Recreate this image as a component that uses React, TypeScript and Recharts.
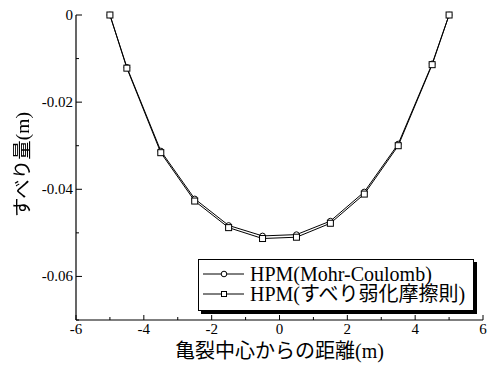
import React from 'react';
import { LineChart, Line, XAxis, YAxis, Legend, Label } from 'recharts';

const distances = [-5, -4.5, -3.5, -2.5, -1.5, -0.5, 0.5, 1.5, 2.5, 3.5, 4.5, 5];
const mohrCoulomb = [0, -0.012, -0.0312, -0.0422, -0.0483, -0.0507, -0.0504, -0.0473, -0.0406, -0.0296, -0.0112, 0];
const slipWeakening = [0, -0.0122, -0.0316, -0.0427, -0.0488, -0.0513, -0.051, -0.0478, -0.0411, -0.03, -0.0114, 0];
const xTicks = [-6, -5, -4, -3, -2, -1, 0, 1, 2, 3, 4, 5, 6];
const yTicks = [0, -0.01, -0.02, -0.03, -0.04, -0.05, -0.06, -0.07];
const seriesNames = ['HPM(Mohr-Coulomb)', 'HPM(すべり弱化摩擦則)'];
const xLabel = '亀裂中心からの距離(m)';
const yLabel = 'すべり量(m)';

const data = distances.map((x, i) => ({ x, mc: mohrCoulomb[i], sw: slipWeakening[i] }));

const FONT = 'Liberation Serif, Times New Roman, Tinos, DejaVu Serif, Noto Sans CJK JP';

const isMajorX = (v: number) => Math.abs(v) % 2 === 0;
const isMajorY = (v: number) => Math.round(Math.abs(v) * 100) % 2 === 0;
const fmtY = (v: number) => (v === 0 ? '0' : v.toFixed(2));

const BottomTick = (p: any) => {
  const { x, y, payload } = p;
  const major = isMajorX(payload.value);
  return (
    <g>
      <line x1={x} y1={y} x2={x} y2={y - (major ? 5 : 3)} stroke="#000" strokeWidth={1} />
      {major && (
        <text x={x} y={y + 14} textAnchor="middle" fontFamily={FONT} fontSize={15} fill="#000">
          {payload.value}
        </text>
      )}
    </g>
  );
};

const TopTick = (p: any) => {
  const { x, y, payload } = p;
  const major = isMajorX(payload.value);
  return <line x1={x} y1={y} x2={x} y2={y + (major ? 5 : 3)} stroke="#000" strokeWidth={1} />;
};

const LeftTick = (p: any) => {
  const { x, y, payload } = p;
  const major = isMajorY(payload.value);
  return (
    <g>
      <line x1={x} y1={y} x2={x + (major ? 6 : 3)} y2={y} stroke="#000" strokeWidth={1} />
      {major && (
        <text x={x - 3} y={y + 5} textAnchor="end" fontFamily={FONT} fontSize={15} fill="#000">
          {fmtY(payload.value)}
        </text>
      )}
    </g>
  );
};

const RightTick = (p: any) => {
  const { x, y, payload } = p;
  const major = isMajorY(payload.value);
  return <line x1={x} y1={y} x2={x - (major ? 6 : 3)} y2={y} stroke="#000" strokeWidth={1} />;
};

const SquareDot = (p: any) => {
  const { cx, cy } = p;
  if (cx == null || cy == null) return null;
  return <rect x={cx - 3} y={cy - 3} width={6} height={6} fill="#fff" stroke="#000" strokeWidth={1} />;
};

const LegendContent = (p: any) => {
  const payload = p.payload || [];
  return (
    <div
      style={{
        width: 276,
        height: 52,
        boxSizing: 'border-box',
        border: '1.5px solid #000',
        boxShadow: '3px 3px 0 #000',
        background: '#fff',
        paddingTop: 4,
        fontFamily: FONT,
        fontSize: 20,
        color: '#000',
      }}
    >
      {payload.map((e: any, i: number) => (
        <div key={i} style={{ display: 'flex', alignItems: 'center', height: 20, lineHeight: '20px', whiteSpace: 'nowrap' }}>
          <svg width={51} height={20} style={{ display: 'block', flex: 'none' }}>
            <line x1={4} y1={10} x2={45} y2={10} stroke="#000" strokeWidth={1} />
            {i === 0 ? (
              <circle cx={25} cy={10} r={2.8} fill="#fff" stroke="#000" strokeWidth={1} />
            ) : (
              <rect x={22.5} y={7.5} width={5} height={5} fill="#fff" stroke="#000" strokeWidth={1} />
            )}
          </svg>
          <span>{e.value}</span>
        </div>
      ))}
    </div>
  );
};

const YLabelContent = (p: any) => {
  const vb = p.viewBox || {};
  const cx = vb.x + 22;
  const cy = vb.y + vb.height / 2 - 3;
  return (
    <g>
      <defs>
        <filter id="ylabel-gray" x="-10%" y="-10%" width="120%" height="120%">
          <feColorMatrix type="saturate" values="0" />
        </filter>
      </defs>
      <g filter="url(#ylabel-gray)">
        <text
          x={cx}
          y={cy}
          transform={`rotate(-90, ${cx}, ${cy})`}
          textAnchor="middle"
          dominantBaseline="central"
          fontFamily={FONT}
          fontSize={19.5}
          fill="#000"
        >
          {yLabel}
        </text>
      </g>
    </g>
  );
};

export default function App() {
  return (
    <div style={{ position: 'absolute', left: 0, top: 0, width: 490, height: 367, background: '#fff' }}>
      <LineChart width={490} height={367} data={data} margin={{ top: 15, right: 7, bottom: 0, left: 0 }}>
        <XAxis
          dataKey="x"
          type="number"
          domain={[-6, 6]}
          ticks={xTicks}
          interval={0}
          height={47}
          tickSize={0}
          tickMargin={0}
          tick={<BottomTick />}
          axisLine={{ stroke: '#000', strokeWidth: 1.2 }}
        >
          <Label value={xLabel} position="insideBottom" offset={9} fontFamily={FONT} fontSize={20} fill="#000" />
        </XAxis>
        <XAxis
          xAxisId="top"
          orientation="top"
          dataKey="x"
          type="number"
          domain={[-6, 6]}
          ticks={xTicks}
          interval={0}
          height={0}
          tickSize={0}
          tickMargin={0}
          tick={<TopTick />}
          axisLine={{ stroke: '#000', strokeWidth: 1.2 }}
        />
        <YAxis
          type="number"
          domain={[-0.07, 0]}
          ticks={yTicks}
          interval={0}
          width={76}
          tickSize={0}
          tickMargin={0}
          tick={<LeftTick />}
          axisLine={{ stroke: '#000', strokeWidth: 1.2 }}
        >
          <Label content={<YLabelContent />} />
        </YAxis>
        <YAxis
          yAxisId="right"
          orientation="right"
          type="number"
          domain={[-0.07, 0]}
          ticks={yTicks}
          interval={0}
          width={0}
          tickSize={0}
          tickMargin={0}
          tick={<RightTick />}
          axisLine={{ stroke: '#000', strokeWidth: 1.2 }}
        />
        <Legend
          layout="vertical"
          verticalAlign="middle"
          align="center"
          content={<LegendContent />}
          wrapperStyle={{ left: 198, top: 259, width: 276, height: 52 }}
        />
        <Line
          dataKey="mc"
          name={seriesNames[0]}
          type="linear"
          stroke="#000"
          strokeWidth={1}
          dot={{ r: 2.8, fill: '#fff', stroke: '#000', strokeWidth: 1 }}
          isAnimationActive={false}
        />
        <Line
          dataKey="sw"
          name={seriesNames[1]}
          type="linear"
          stroke="#000"
          strokeWidth={1}
          dot={<SquareDot />}
          isAnimationActive={false}
        />
      </LineChart>
    </div>
  );
}
